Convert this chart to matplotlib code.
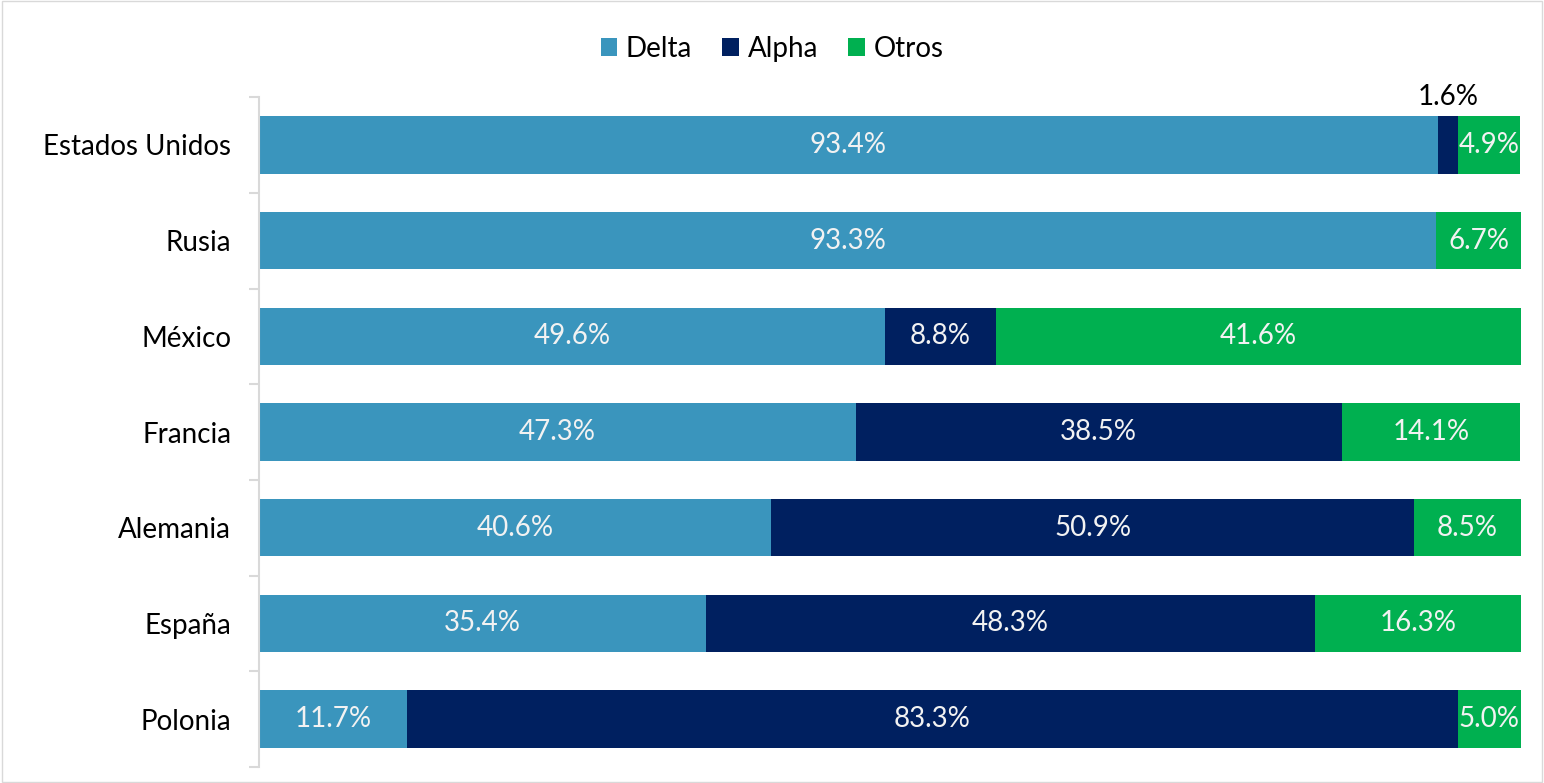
import matplotlib.pyplot as plt
import numpy as np

plt.rcParams['font.family'] = ['Lato', 'DejaVu Sans']

# data
paises = ['Estados Unidos', 'Rusia', 'México', 'Francia', 'Alemania', 'España', 'Polonia']
delta = [93.4, 93.3, 49.6, 47.3, 40.6, 35.4, 11.7]
alpha = [1.6, 0.0, 8.8, 38.5, 50.9, 48.3, 83.3]
otros = [4.9, 6.7, 41.6, 14.1, 8.5, 16.3, 5.0]

series = [('Delta', delta, '#3A95BD'), ('Alpha', alpha, '#002060'), ('Otros', otros, '#00B050')]

fig = plt.figure(figsize=(15.44, 7.83), dpi=100)
ax = fig.add_axes([0.1677, 0.0204, 0.8174, 0.8556])

y = np.arange(len(paises))
left = np.zeros(len(paises))
for name, vals, color in series:
    vals = np.array(vals)
    ax.barh(y, vals, left=left, height=0.6, color=color, label=name)
    for i, v in enumerate(vals):
        if v <= 0:
            continue
        cx = left[i] + v / 2
        if v < 3:
            # small segment: label above the bar
            ax.text(cx, y[i] - 0.36, '{:.1f}%'.format(v), ha='center', va='bottom',
                    fontsize=20, color='black')
        else:
            ax.text(cx, y[i], '{:.1f}%'.format(v), ha='center', va='center',
                    fontsize=20, color='#F2F2F2')
    left += vals

ax.set_xlim(0, 100)
ax.set_ylim(len(paises) - 0.5, -0.5)
ax.set_yticks(y)
ax.set_yticklabels(paises, fontsize=20)
ax.tick_params(axis='y', which='major', length=0, pad=20)
ax.set_yticks(np.arange(-0.5, len(paises)), minor=True)
ax.tick_params(axis='y', which='minor', length=7, width=1.5, color='#D9D9D9')
ax.set_xticks([])

for s in ['top', 'right', 'bottom']:
    ax.spines[s].set_visible(False)
ax.spines['left'].set_color('#D9D9D9')
ax.spines['left'].set_linewidth(1.5)

fig.legend(loc='center', bbox_to_anchor=(0.5, 0.938), ncol=3, frameon=False,
           fontsize=20, handlelength=0.6, handleheight=0.6, handletextpad=0.3,
           columnspacing=1.1)

# figure border
fig.patches.append(plt.Rectangle((0.001, 0.001), 0.998, 0.998, transform=fig.transFigure,
                                 fill=False, edgecolor='#D9D9D9', linewidth=1))

fig.savefig('out.png', dpi=100)
